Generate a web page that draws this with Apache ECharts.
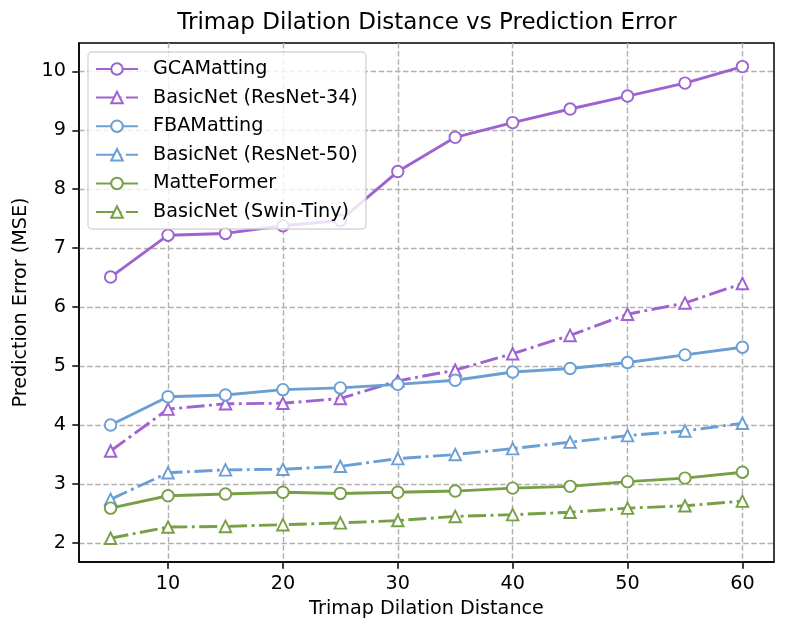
<!DOCTYPE html>
<html>
<head>
<meta charset="utf-8">
<script src="https://cdn.jsdelivr.net/npm/echarts@6/dist/echarts.min.js"></script>
<style>
  html, body { margin: 0; padding: 0; background: #fff; }
  #chart { width: 789px; height: 635px; }
</style>
</head>
<body>
<div id="chart"></div>
<script>
// trimap dilation distance (x)
const distances = [5, 10, 15, 20, 25, 30, 35, 40, 45, 50, 55, 60];
const xTicks = [10, 20, 30, 40, 50, 60];
const yTicks = [2, 3, 4, 5, 6, 7, 8, 9, 10];

// prediction error (MSE)
const gcaMatting = [6.51, 7.22, 7.25, 7.38, 7.47, 8.30, 8.88, 9.13, 9.36, 9.58, 9.80, 10.08];
const basicResNet34 = [3.56, 4.27, 4.36, 4.37, 4.45, 4.75, 4.93, 5.21, 5.52, 5.88, 6.07, 6.40];
const fbaMatting = [4.00, 4.48, 4.51, 4.60, 4.63, 4.69, 4.76, 4.90, 4.96, 5.06, 5.19, 5.32];
const basicResNet50 = [2.74, 3.19, 3.24, 3.25, 3.30, 3.43, 3.50, 3.60, 3.71, 3.82, 3.90, 4.03];
const matteFormer = [2.59, 2.80, 2.83, 2.86, 2.84, 2.86, 2.88, 2.93, 2.96, 3.04, 3.10, 3.20];
const basicSwinTiny = [2.08, 2.27, 2.28, 2.31, 2.34, 2.38, 2.45, 2.48, 2.52, 2.59, 2.63, 2.71];

const purple = '#9e62d1';
const blue = '#6b9fd3';
const green = '#77a046';
const dashDot = [18, 4.5, 2.9, 4.5];
const font = 'DejaVu Sans';

function makeSeries(name, values, color, symbol, dashed) {
  return {
    name: name,
    type: 'line',
    data: distances.map((d, i) => [d, values[i]]),
    symbol: symbol,
    symbolSize: 11.5,
    showSymbol: true,
    lineStyle: { color: color, width: 2.9, type: dashed ? dashDot : 'solid', cap: 'butt' },
    itemStyle: { color: '#ffffff', borderColor: color, borderWidth: 1.9 },
    emphasis: { disabled: true }
  };
}

const chart = echarts.init(document.getElementById('chart'));
const options = {
  animation: false,
  title: {
    text: 'Trimap Dilation Distance vs Prediction Error',
    left: 427,
    textAlign: 'center',
    top: 12,
    padding: 0,
    textStyle: { fontFamily: font, fontSize: 23, fontWeight: 'normal', color: '#000' }
  },
  legend: {
    orient: 'vertical',
    left: 88,
    top: 52,
    padding: [7, 8, 7, 7],
    itemWidth: 42,
    itemHeight: 14.4,
    itemGap: 8.6,
    backgroundColor: 'rgba(255,255,255,0.8)',
    borderColor: 'rgba(204,204,204,0.8)',
    borderWidth: 1.4,
    borderRadius: 4,
    textStyle: { fontFamily: font, fontSize: 19.2, color: '#000', lineHeight: 20, padding: [0, 0, 0, 10] }
  },
  grid: {
    left: 79,
    right: 15,
    top: 43,
    bottom: 73,
    show: true,
    borderColor: '#000',
    borderWidth: 1.5
  },
  xAxis: {
    type: 'value',
    min: 2.25,
    max: 62.75,
    name: 'Trimap Dilation Distance',
    nameLocation: 'middle',
    nameGap: 38,
    nameTextStyle: { fontFamily: font, fontSize: 19.2, color: '#000' },
    axisLine: { show: true, lineStyle: { color: '#000', width: 1.5 } },
    axisTick: { show: true, customValues: xTicks, length: 6.7, lineStyle: { color: '#000', width: 1.5 } },
    axisLabel: { customValues: xTicks, margin: 13, fontFamily: font, fontSize: 19.2, color: '#000' },
    splitLine: { show: true, lineStyle: { color: '#b0b0b0', width: 1.4, type: [5.5, 2.6] } }
  },
  yAxis: {
    type: 'value',
    min: 1.677,
    max: 10.48,
    name: 'Prediction Error (MSE)',
    nameLocation: 'middle',
    nameGap: 46,
    nameTextStyle: { fontFamily: font, fontSize: 19.2, color: '#000' },
    axisLine: { show: true, lineStyle: { color: '#000', width: 1.5 } },
    axisTick: { show: true, customValues: yTicks, length: 6.7, lineStyle: { color: '#000', width: 1.5 } },
    axisLabel: { customValues: yTicks, margin: 13, fontFamily: font, fontSize: 19.2, color: '#000' },
    splitLine: { show: true, lineStyle: { color: '#b0b0b0', width: 1.4, type: [5.5, 2.6] } }
  },
  series: [
    makeSeries('GCAMatting', gcaMatting, purple, 'circle', false),
    makeSeries('BasicNet (ResNet-34)', basicResNet34, purple, 'triangle', true),
    makeSeries('FBAMatting', fbaMatting, blue, 'circle', false),
    makeSeries('BasicNet (ResNet-50)', basicResNet50, blue, 'triangle', true),
    makeSeries('MatteFormer', matteFormer, green, 'circle', false),
    makeSeries('BasicNet (Swin-Tiny)', basicSwinTiny, green, 'triangle', true)
  ]
};
chart.setOption(options);
</script>
</body>
</html>
